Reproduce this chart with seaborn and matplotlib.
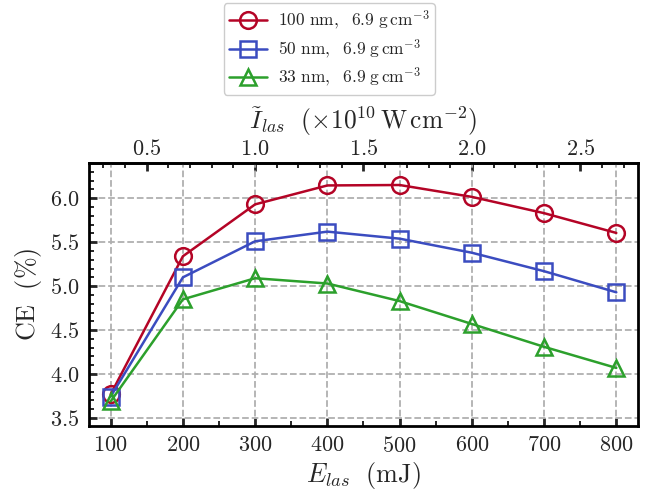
import matplotlib
matplotlib.use("Agg")
import matplotlib.pyplot as plt
import seaborn as sns
import pandas as pd
from matplotlib.ticker import MultipleLocator, FixedLocator

energy = [100, 200, 300, 400, 500, 600, 700, 800]
ce_100nm = [3.77, 5.34, 5.93, 6.145, 6.15, 6.015, 5.83, 5.605]
ce_50nm = [3.745, 5.10, 5.51, 5.62, 5.54, 5.38, 5.17, 4.93]
ce_33nm = [3.69, 4.85, 5.09, 5.03, 4.83, 4.57, 4.31, 4.07]
top_ticks = [0.5, 1.0, 1.5, 2.0, 2.5]
labels = [r'$100\ \mathrm{nm},\ \ 6.9\ \mathrm{g\,cm^{-3}}$',
          r'$50\ \mathrm{nm},\ \ 6.9\ \mathrm{g\,cm^{-3}}$',
          r'$33\ \mathrm{nm},\ \ 6.9\ \mathrm{g\,cm^{-3}}$']
colors = ['#B40426', '#3B4CC0', '#2CA02C']
markers = ['o', 's', '^']

sns.set_style('ticks')
plt.rcParams.update({
    'font.family': 'serif',
    'font.serif': ['cmr10', 'DejaVu Serif'],
    'mathtext.fontset': 'cm',
    'axes.formatter.use_mathtext': True,
    'font.size': 16,
    'axes.unicode_minus': False,
})

fig = plt.figure(figsize=(6.52, 4.94), dpi=100)
ax = fig.add_axes([0.1365, 0.1377, 0.842, 0.5323])

series = [ce_100nm, ce_50nm, ce_33nm]
for vals, lab, col, mk in zip(series, labels, colors, markers):
    df = pd.DataFrame({'E': energy, 'CE': vals})
    sns.lineplot(data=df, x='E', y='CE', ax=ax, color=col, marker=mk,
                 markersize=12, markerfacecolor='none', markeredgecolor=col,
                 markeredgewidth=1.8, linewidth=1.8, label=lab)

ax.set_xlim(70, 830)
ax.set_ylim(3.41, 6.40)
ax.xaxis.set_major_locator(MultipleLocator(100))
ax.xaxis.set_minor_locator(MultipleLocator(50))
ax.yaxis.set_major_locator(MultipleLocator(0.5))
ax.yaxis.set_minor_locator(MultipleLocator(0.1))
ax.grid(True, which='major', linestyle='--', color='#b0b0b0', linewidth=1.3)
ax.set_axisbelow(True)
for sp in ax.spines.values():
    sp.set_linewidth(2.0)
    sp.set_color('black')
ax.tick_params(axis='both', which='major', direction='in', length=6, width=2.0,
               labelsize=16, top=False, right=False, pad=7)
ax.tick_params(axis='both', which='minor', direction='in', length=3.5, width=1.4,
               top=False, right=False)
ax.set_xlabel(r'$E_{las}\ \ (\mathrm{mJ})$', fontsize=18.8, labelpad=3)
ax.set_ylabel(r'$\mathrm{CE}\ \ (\%)$', fontsize=18.8, labelpad=4)

sec = ax.secondary_xaxis('top', functions=(lambda e: e / 300.0, lambda i: i * 300.0))
sec.xaxis.set_major_locator(FixedLocator(top_ticks))
sec.xaxis.set_minor_locator(MultipleLocator(0.1))
sec.spines['top'].set_linewidth(2.0)
sec.tick_params(axis='x', which='major', direction='in', length=6, width=2.0,
                labelsize=16, pad=3)
sec.tick_params(axis='x', which='minor', direction='in', length=3.5, width=1.4)
sec.set_xlabel(r'$\tilde{I}_{las}\ \ (\times 10^{10}\,\mathrm{W\,cm^{-2}})$',
               fontsize=18.3, labelpad=7)

ax.legend(loc='upper center', bbox_to_anchor=(0.505, 1.0),
          bbox_transform=fig.transFigure, fontsize=12.5, frameon=True,
          fancybox=True, edgecolor='#cccccc', framealpha=1,
          handlelength=2.2, handletextpad=0.6, labelspacing=0.3, borderpad=0.3,
          borderaxespad=0.2)

fig.savefig('out.png', dpi=100)
